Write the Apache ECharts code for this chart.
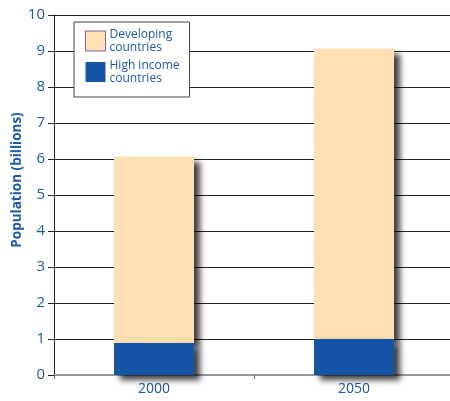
<!DOCTYPE html>
<html>
<head>
<meta charset="utf-8">
<script src="https://cdn.jsdelivr.net/npm/echarts@6/dist/echarts.min.js"></script>
<style>
  html, body { margin: 0; padding: 0; background: #fff; }
  #chart { width: 450px; height: 401px; }
</style>
</head>
<body>
<div id="chart"></div>
<script>
// World population by income group, billions
const years = ['2000', '2050'];
const highIncome = [0.89, 1.0];
const developing = [5.17, 8.06];
const seriesNames = ['High income countries', 'Developing countries'];
const legendLabels = { 'Developing countries': 'Developing\ncountries', 'High income countries': 'High income\ncountries' };
const yTitle = 'Population (billions)';

const BLUE = '#1555a5';
const BEIGE = '#ffe0b2';
const TEXT = '#1a5aa8';
const FONT = '"Open Sans", sans-serif';

const chart = echarts.init(document.getElementById('chart'));
const barShadow = { shadowColor: 'rgba(0,0,0,0.75)', shadowBlur: 6, shadowOffsetX: 6, shadowOffsetY: 5 };

chart.setOption({
  animation: false,
  grid: { left: 54, top: 15, width: 400, height: 360, containLabel: false, outerBoundsMode: 'none' },
  graphic: [{
    type: 'text',
    x: 17, y: 180,
    rotation: Math.PI / 2,
    style: {
      text: yTitle,
      fill: TEXT,
      font: 'bold 13.5px "Open Sans", sans-serif',
      align: 'center',
      verticalAlign: 'middle'
    }
  }],
  legend: {
    orient: 'vertical',
    left: 74, top: 22,
    data: [
      { name: 'Developing countries', itemStyle: { borderColor: '#7b5ea7', borderWidth: 1 } },
      { name: 'High income countries' }
    ],
    backgroundColor: '#fff',
    borderColor: '#444',
    borderWidth: 1,
    padding: [6, 10, 12, 11],
    itemWidth: 20, itemHeight: 20, itemGap: 5,
    icon: 'rect',
    formatter: n => legendLabels[n],
    textStyle: { color: TEXT, fontFamily: FONT, fontSize: 12, fontWeight: 500, lineHeight: 13, padding: [0, 0, 0, -1] }
  },
  xAxis: {
    type: 'category',
    data: years,
    axisLine: { lineStyle: { color: '#999', width: 2 } },
    axisTick: { show: true, length: 4, lineStyle: { color: '#666' } },
    axisLabel: { color: TEXT, fontFamily: FONT, fontSize: 14, margin: 7 }
  },
  yAxis: {
    type: 'value',
    min: 0, max: 10, interval: 1,
    axisLine: { show: true, lineStyle: { color: '#222', width: 1 } },
    axisTick: { show: true, length: 6, lineStyle: { color: '#222' } },
    splitLine: { lineStyle: { color: '#222', width: 1 } },
    axisLabel: { color: TEXT, fontFamily: FONT, fontSize: 15, margin: 9 }
  },
  series: [
    {
      name: seriesNames[0], type: 'bar', stack: 'pop', data: highIncome,
      barWidth: 80, z: 3,
      itemStyle: Object.assign({ color: BLUE }, barShadow)
    },
    {
      name: seriesNames[1], type: 'bar', stack: 'pop', data: developing,
      barWidth: 80, z: 2,
      itemStyle: Object.assign({ color: BEIGE }, barShadow)
    }
  ]
});
</script>
</body>
</html>
